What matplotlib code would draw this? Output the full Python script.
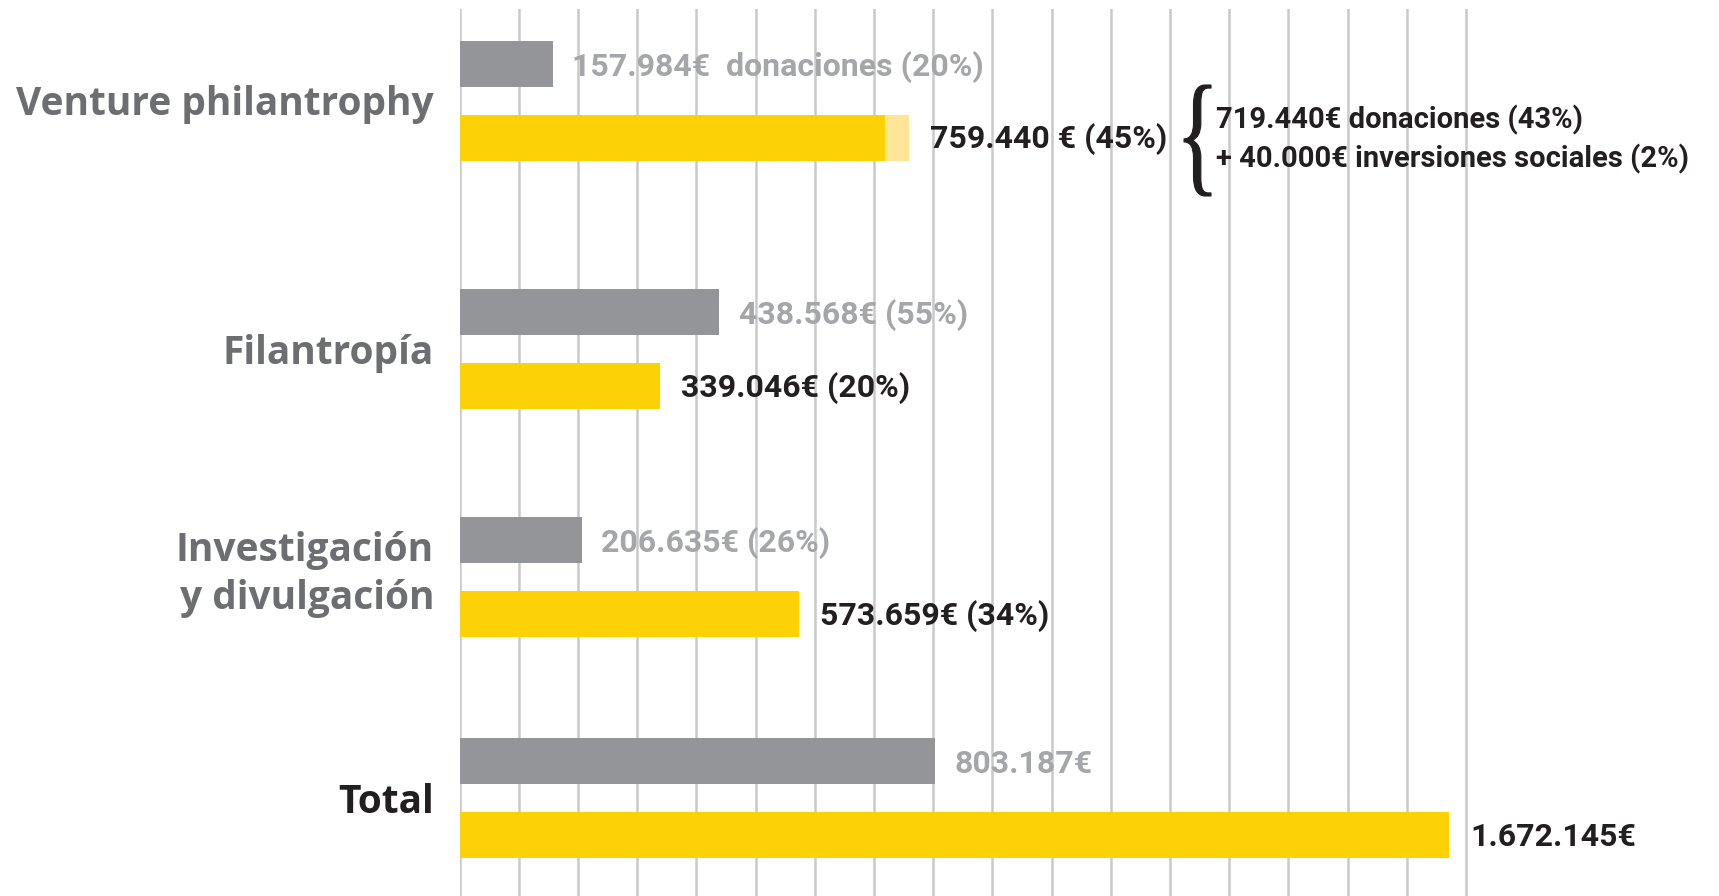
import numpy as np
import matplotlib
matplotlib.use('Agg')
import matplotlib.pyplot as plt
from matplotlib.textpath import TextPath
from matplotlib.patches import PathPatch
from matplotlib.font_manager import FontProperties
from matplotlib.transforms import Affine2D

# Data
categories = ['Venture philantrophy', 'Filantropía', 'Investigación\ny divulgación', 'Total']
gray_values = [157984, 438568, 206635, 803187]
yellow_values = [719440, 339046, 573659, 1672145]
yellow_extra = [40000, 0, 0, 0]  # inversiones sociales (VP only)
gray_labels = ['157.984€  donaciones (20%)', '438.568€ (55%)', '206.635€ (26%)', '803.187€']
yellow_labels = ['759.440 € (45%)', '339.046€ (20%)', '573.659€ (34%)', '1.672.145€']
brace_lines = ['719.440€ donaciones (43%)', '+ 40.000€ inversiones sociales (2%)']

# Layout (y in pixel rows from top)
group_y = [101, 349.5, 577.5, 798.5]
bar_off = 37
bar_h = 46

gray_color = '#939598'
yellow_color = '#FCD105'
light_yellow = '#FEE597'
grid_color = '#C9C9C9'
gray_text = '#A4A6A9'
cat_color = '#6D6E71'
dark_text = '#231F20'

W, H = 1719, 896
fig = plt.figure(figsize=(W / 100, H / 100), dpi=100)

# main axes: x in euros, y in pixel rows
left_px, top_px = 459.5, 9
px_per_100k = 59.2
ax = fig.add_axes([left_px / W, 0, 1 - left_px / W, (H - top_px) / H])
ax.set_xlim(0, (W - left_px) / px_per_100k * 1e5)
ax.set_ylim(H, top_px)

ax.set_xticks(np.arange(0, 1.8e6, 1e5))
ax.grid(axis='x', color=grid_color, lw=1.8)
ax.set_axisbelow(True)
ax.tick_params(length=0, labelbottom=False, labelleft=False)
for s in ax.spines.values():
    s.set_visible(False)
ax.set_yticks([])

gy = np.array(group_y)
ax.barh(gy - bar_off, gray_values, height=bar_h, color=gray_color, zorder=2)
ax.barh(gy + bar_off, yellow_values, height=bar_h, color=yellow_color, zorder=2)
ax.barh(gy + bar_off, yellow_extra, left=yellow_values, height=bar_h, color=light_yellow, zorder=2)

val_font = dict(family='Roboto', weight='bold', fontsize=23)
for i in range(len(categories)):
    ax.annotate(gray_labels[i], (gray_values[i], gy[i] - bar_off), xytext=(14, -2),
                textcoords='offset points', va='center', ha='left', color=gray_text, **val_font)
    end = yellow_values[i] + yellow_extra[i]
    ax.annotate(yellow_labels[i], (end, gy[i] + bar_off), xytext=(15, -1),
                textcoords='offset points', va='center', ha='left', color=dark_text, **val_font)

# overlay in figure pixels
ov = fig.add_axes([0, 0, 1, 1], zorder=3)
ov.set_xlim(0, W)
ov.set_ylim(H, 0)
ov.axis('off')

for i, cat in enumerate(categories):
    col = dark_text if cat == 'Total' else cat_color
    dy = -3 if '\n' in cat else 4
    ov.text(434, gy[i] + dy, cat, ha='right', va='center', ma='right', color=col,
            family='Open Sans', weight='bold', fontsize=28, linespacing=1.3)

# brace
tp = TextPath((0, 0), '{', size=100, prop=FontProperties(family='Liberation Serif'))
ext = tp.get_extents()
bx0, bx1, by0, by1 = 1184, 1211, 85, 196
tr = Affine2D().translate(-ext.x0, -ext.y0).scale((bx1 - bx0) / ext.width, -(by1 - by0) / ext.height).translate(bx0, by1)
ov.add_patch(PathPatch(tr.transform_path(tp), facecolor=dark_text, edgecolor=dark_text, lw=0.8))

ov.text(1216, 120, brace_lines[0], ha='left', va='center', color=dark_text, family='Roboto', weight='bold', fontsize=21)
ov.text(1216, 159, brace_lines[1], ha='left', va='center', color=dark_text, family='Roboto', weight='bold', fontsize=21)

fig.savefig('out.png', dpi=100)
